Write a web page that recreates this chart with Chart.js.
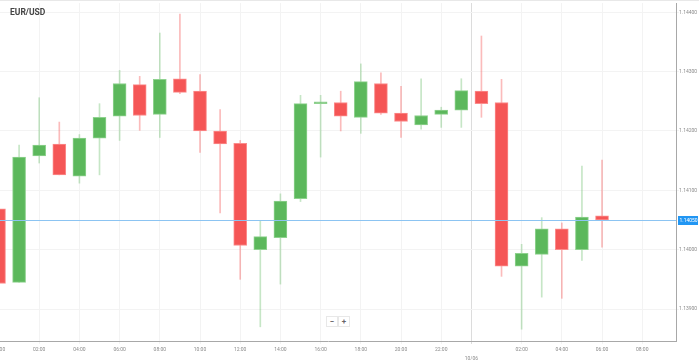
<!DOCTYPE html>
<html>
<head>
<meta charset="utf-8">
<script src="https://cdn.jsdelivr.net/npm/chart.js@4"></script>
<style>
  html, body { margin: 0; padding: 0; background: #fff; }
  #wrap { position: relative; width: 699px; height: 360px; overflow: hidden; background: #fff; }
  #chart { position: absolute; left: -20px; top: 0; }
  #topline { position: absolute; left: 0; top: 0; width: 699px; height: 1px; background: #e8e8e8; }
  #title { position: absolute; left: 10px; top: 7px; font: bold 8.5px Roboto, sans-serif; color: #444; }
  .zbtn { position: absolute; top: 316px; width: 10px; height: 9px; border: 1px solid #e8e8e8; background: #fff;
          font: bold 8px Roboto, sans-serif; color: #666; text-align: center; line-height: 9px; }
</style>
</head>
<body>
<div id="wrap">
  <canvas id="chart" width="719" height="360"></canvas>
  <div id="topline"></div>
  <div id="title">EUR/USD</div>
  <div class="zbtn" style="left:326px">−</div>
  <div class="zbtn" style="left:338px">+</div>
</div>
<script>
// horas desde 00:00 del primer día
const hours = [0, 1, 2, 3, 4, 5, 6, 7, 8, 9, 10, 11, 12, 13, 14, 15, 16, 17, 18, 19, 20, 21, 22, 23, 24, 25, 26, 27, 28, 29, 30];
const opens  = [1.14069, 1.13945, 1.14158, 1.14178, 1.14124, 1.14188, 1.14225, 1.14278, 1.14228, 1.14288, 1.14267, 1.14200, 1.14179, 1.14000, 1.14020, 1.14086, 1.14246, 1.14248, 1.14223, 1.14280, 1.14230, 1.14210, 1.14228, 1.14235, 1.14267, 1.14248, 1.13972, 1.13992, 1.14035, 1.14000, 1.14057];
const highs  = [1.14069, 1.14176, 1.14256, 1.14215, 1.14194, 1.14246, 1.14302, 1.14292, 1.14365, 1.14397, 1.14295, 1.14236, 1.14184, 1.14049, 1.14094, 1.14260, 1.14260, 1.14267, 1.14313, 1.14298, 1.14275, 1.14288, 1.14240, 1.14288, 1.14360, 1.14287, 1.14009, 1.14054, 1.14045, 1.14141, 1.14151];
const lows   = [1.13943, 1.13945, 1.14146, 1.14126, 1.14112, 1.14126, 1.14184, 1.14201, 1.14189, 1.14263, 1.14164, 1.14062, 1.13950, 1.13870, 1.13942, 1.14081, 1.14156, 1.14200, 1.14196, 1.14228, 1.14189, 1.14203, 1.14206, 1.14206, 1.14223, 1.13955, 1.13866, 1.13920, 1.13918, 1.13982, 1.14004];
const closes = [1.13943, 1.14156, 1.14176, 1.14126, 1.14188, 1.14223, 1.14280, 1.14226, 1.14287, 1.14265, 1.14200, 1.14178, 1.14007, 1.14022, 1.14082, 1.14246, 1.14249, 1.14225, 1.14283, 1.14230, 1.14216, 1.14226, 1.14235, 1.14268, 1.14246, 1.13972, 1.13994, 1.14035, 1.14000, 1.14055, 1.14050];

// etiquetas de los ejes
const xTickHours  = [0, 2, 4, 6, 8, 10, 12, 14, 16, 18, 20, 22, 23.5, 26, 28, 30, 32];
const xTickLabels = ['00:00', '02:00', '04:00', '06:00', '08:00', '10:00', '12:00', '14:00', '16:00', '18:00', '20:00', '22:00', ['', '10/06'], '02:00', '04:00', '06:00', '08:00'];
const yTicks = [1.139, 1.140, 1.141, 1.142, 1.143, 1.144];

const GREEN = '#5cb85c';
const RED = '#f55656';

const isUp = i => closes[i] >= opens[i];

const bodies = hours.map((h, i) => ({ x: h, y: [opens[i], closes[i]] }));
const wicks = hours.map((h, i) => ({ x: h, y: [lows[i], highs[i]] }));

// línea del último precio con su etiqueta
const lastPricePlugin = {
  id: 'lastPrice',
  afterDatasetsDraw(chart) {
    const { ctx, chartArea, scales } = chart;
    const last = closes[closes.length - 1];
    const y = Math.round(scales.y.getPixelForValue(last)) + 0.5;
    ctx.save();
    ctx.strokeStyle = '#8cc4f2';
    ctx.lineWidth = 1;
    ctx.beginPath();
    ctx.moveTo(chartArea.left, y);
    ctx.lineTo(chartArea.right, y);
    ctx.stroke();
    ctx.fillStyle = '#2196f3';
    ctx.fillRect(chartArea.right + 2, y - 4.5, 20, 9);
    ctx.fillStyle = '#fff';
    ctx.font = '5px Roboto';
    ctx.textBaseline = 'middle';
    ctx.fillText(last.toFixed(5), chartArea.right + 3.5, y);
    ctx.restore();
  }
};

new Chart(document.getElementById('chart'), {
  type: 'bar',
  data: {
    datasets: [
      {
        label: 'cuerpos',
        data: bodies,
        order: 1,
        grouped: false,
        barThickness: 13,
        backgroundColor: ctx => isUp(ctx.dataIndex) ? GREEN : RED,
        borderColor: ctx => isUp(ctx.dataIndex) ? '#8fd28f' : '#fb8c8c',
        borderWidth: 1,
        borderSkipped: false
      },
      {
        label: 'mechas',
        data: wicks,
        order: 2,
        grouped: false,
        barThickness: 1,
        backgroundColor: ctx => isUp(ctx.dataIndex) ? 'rgba(92,184,92,0.35)' : 'rgba(245,86,86,0.4)',
        borderWidth: 0
      }
    ]
  },
  options: {
    responsive: false,
    devicePixelRatio: 1,
    animation: false,
    layout: { padding: { top: 1, left: 0, right: 0, bottom: 0 } },
    plugins: {
      legend: { display: false },
      tooltip: { enabled: false },
      title: { display: false }
    },
    scales: {
      x: {
        type: 'linear',
        min: -0.945,
        max: 33.68,
        offset: false,
        grid: {
          offset: false,
          tickLength: 3,
          color: ctx => (ctx.tick && ctx.tick.value === 23.5) ? '#dcdcdc' : '#f3f3f3'
        },
        border: { color: '#a8a8a8' },
        afterBuildTicks: scale => {
          scale.ticks = xTickHours.map(v => ({ value: v }));
        },
        afterFit: scale => { scale.height = 19; },
        ticks: {
          autoSkip: false,
          maxRotation: 0,
          padding: 1,
          color: '#8a8a8a',
          font: { family: 'Roboto', size: 5, lineHeight: 1.8 },
          callback: (v) => xTickLabels[xTickHours.indexOf(v)]
        }
      },
      y: {
        position: 'right',
        min: 1.138461,
        max: 1.144156,
        grid: { color: '#f3f3f3', tickLength: 3 },
        border: { color: '#a8a8a8' },
        afterBuildTicks: scale => {
          scale.ticks = yTicks.map(v => ({ value: v }));
        },
        afterFit: scale => { scale.width = 23; },
        ticks: {
          padding: 0,
          color: '#8a8a8a',
          font: { family: 'Roboto', size: 5 },
          callback: v => v.toFixed(5)
        }
      }
    }
  },
  plugins: [lastPricePlugin]
});
</script>
</body>
</html>
